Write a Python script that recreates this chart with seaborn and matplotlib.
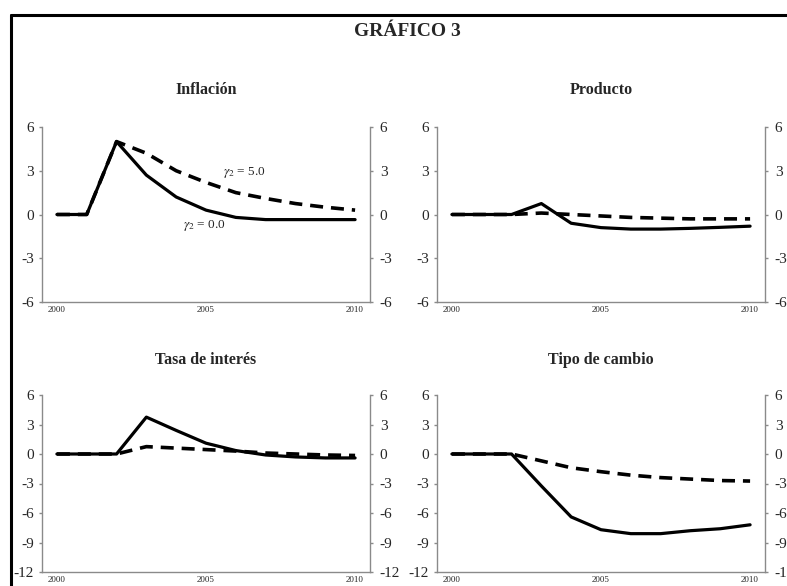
import numpy as np
import pandas as pd
import matplotlib
matplotlib.use("Agg")
import matplotlib.pyplot as plt
from matplotlib.lines import Line2D
import seaborn as sns

sns.set_theme(style="white")
plt.rcParams['font.family'] = ['Liberation Serif', 'DejaVu Serif']
plt.rcParams['mathtext.fontset'] = 'stix'

years = [2000, 2001, 2002, 2003, 2004, 2005, 2006, 2007, 2008, 2009, 2010]
year_labels = ["2000", "", "", "", "", "2005", "", "", "", "", "2010"]

inflacion_g0 = [0, 0, 5.0, 2.7, 1.2, 0.3, -0.2, -0.35, -0.35, -0.35, -0.35]
inflacion_g5 = [0, 0, 5.0, 4.2, 3.0, 2.2, 1.5, 1.1, 0.75, 0.5, 0.3]
producto_g0 = [0, 0, 0, 0.75, -0.6, -0.9, -1.0, -1.0, -0.95, -0.88, -0.8]
producto_g5 = [0, 0, 0, 0.1, 0.0, -0.1, -0.2, -0.25, -0.3, -0.3, -0.3]
tasa_g0 = [0, 0, 0, 3.75, 2.4, 1.1, 0.35, -0.1, -0.3, -0.4, -0.4]
tasa_g5 = [0, 0, 0, 0.75, 0.6, 0.45, 0.3, 0.1, 0.0, -0.1, -0.15]
cambio_g0 = [0, 0, 0, -3.25, -6.4, -7.7, -8.1, -8.1, -7.8, -7.6, -7.2]
cambio_g5 = [0, 0, 0, -0.7, -1.4, -1.8, -2.15, -2.4, -2.55, -2.7, -2.75]

titles = ["Inflación", "Producto", "Tasa de interés", "Tipo de cambio"]
series = [(inflacion_g0, inflacion_g5), (producto_g0, producto_g5),
          (tasa_g0, tasa_g5), (cambio_g0, cambio_g5)]
yticks_top = [-6, -3, 0, 3, 6]
yticks_bot = [-12, -9, -6, -3, 0, 3, 6]

W, H = 787, 586
fig = plt.figure(figsize=(W / 100, H / 100), dpi=100)

# panel boxes in pixels: left, right, top, bottom
boxes = [(42, 370, 127, 302), (437, 765, 127, 302),
         (42, 370, 395, 572), (437, 765, 395, 572)]

spine_col = "#8a8a8a"
idx = np.arange(len(years))

for i, ((l, r, t, b), title, (g0, g5)) in enumerate(zip(boxes, titles, series)):
    ax = fig.add_axes([l / W, 1 - b / H, (r - l) / W, (b - t) / H])
    df = pd.DataFrame({"x": idx, "g0": g0, "g5": g5})
    sns.lineplot(data=df, x="x", y="g0", ax=ax, color="black", lw=2.3)
    sns.lineplot(data=df, x="x", y="g5", ax=ax, color="black", lw=2.6,
                 dashes=False, linestyle=(0, (3.6, 2.2)))
    ax.set_xlabel("")
    ax.set_ylabel("")
    ax.set_xlim(-0.5, 10.5)
    yt = yticks_top if i < 2 else yticks_bot
    ax.set_ylim(yt[0], yt[-1])
    ax.set_yticks(yt)
    ax.set_yticklabels([str(v) for v in yt], fontsize=11)
    ax.set_xticks(idx)
    ax.set_xticklabels(year_labels, fontsize=6.5)
    ax.set_xticks(idx[:-1] + 0.5, minor=True)
    ax.tick_params(axis="x", which="major", length=0, pad=3)
    ax.tick_params(axis="x", which="minor", direction="in", length=5,
                   width=1, color=spine_col)
    ax.tick_params(axis="y", which="major", direction="out", length=2,
                   width=1, color=spine_col, pad=4, left=True)
    for s in ["top", "right"]:
        ax.spines[s].set_visible(False)
    for s in ["left", "bottom"]:
        ax.spines[s].set_color(spine_col)
        ax.spines[s].set_linewidth(1.0)
    ax.set_title(title, fontsize=11.5, fontweight="bold", pad=24 if i < 2 else 22.5)
    ax.patch.set_alpha(0)

    ax2 = ax.twinx()
    ax2.set_ylim(yt[0], yt[-1])
    ax2.set_yticks(yt)
    ax2.set_yticklabels([str(v) for v in yt], fontsize=11)
    ax2.tick_params(axis="y", direction="out", length=2, width=1,
                    color=spine_col, pad=5, right=True)
    for s in ["top", "left", "bottom"]:
        ax2.spines[s].set_visible(False)
    ax2.spines["right"].set_color(spine_col)
    ax2.spines["right"].set_linewidth(1.0)
    ax2.grid(False)

    if i == 0:
        ax.text(6.3, 2.9, r"$\gamma_2$ = 5.0", fontsize=9.5, ha="center", va="center")
        ax.text(4.95, -0.75, r"$\gamma_2$ = 0.0", fontsize=9.5, ha="center", va="center")

fig.text(407 / W, 1 - 32 / H, "GRÁFICO 3", fontsize=14, fontweight="bold",
         ha="center", va="center")

# frame lines (top and left)
fig.add_artist(Line2D([11 / W, 1.0], [1 - 15 / H, 1 - 15 / H], color="black",
                      lw=2.2, transform=fig.transFigure))
fig.add_artist(Line2D([11 / W, 11 / W], [1 - 15 / H, 0.0], color="black",
                      lw=2.2, transform=fig.transFigure))

fig.savefig("out.png", dpi=100, facecolor="white")
